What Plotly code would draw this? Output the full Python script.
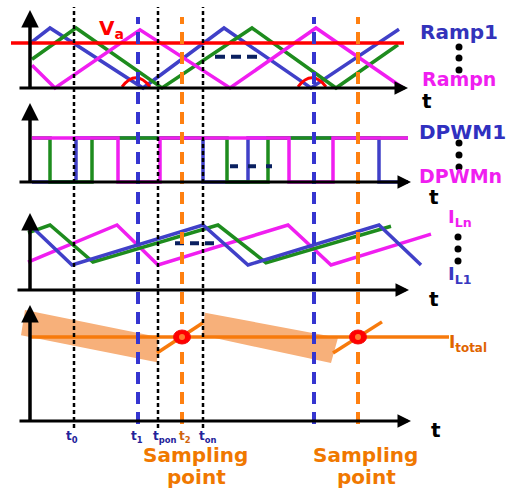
import plotly.graph_objects as go

FIG_W, FIG_H = 512, 492
X_RANGE = [-30, 482]          # time axis, clock ticks

# ---------------- data ----------------
# switching instants
t_0, t_1, t_pon, t_2, t_on = 44, 108, 128, 152, 173
t_1b, t_2b = 284, 328
black_marks = [t_0, t_pon, t_on]
blue_marks = [t_1, t_1b]
sample_marks = [t_2, t_2b]

# panel 1: carrier ramps (normalised) and control voltage
ramp1_t = [2, 20, 113, 194, 281, 369]
ramp1_v = [0.77, 1.0, 0.0, 1.0, 0.0, 0.98]
ramp2_t = [2, 46, 132, 222, 306, 368]
ramp2_v = [0.48, 1.0, 0.0, 1.0, 0.0, 0.72]
rampn_t = [2, 25, 110, 200, 286, 373]
rampn_v = [0.38, 0.0, 0.97, 0.0, 1.0, 0.0]
vc_t = [-19, 374]
vc_level = 0.75
cross_t = [106, 282]          # valley crossings circled in red

# panel 2: DPWM outputs (edge times and logic states)
dpwm1_edges = [2, 46, 173, 218, 349, 378]
dpwm1_state = [0, 1, 0, 1, 0]
dpwm2_edges = [2, 20, 62, 197, 238, 378]
dpwm2_state = [1, 0, 1, 0, 1]
dpwmn_edges = [2, 88, 130, 259, 303, 378]
dpwmn_state = [1, 0, 1, 0, 1]

# panel 3: phase inductor currents (normalised)
iL1_t = [0, 42, 173, 218, 349, 391]
iL1_v = [1.0, 0.385, 1.0, 0.385, 1.0, 0.385]
iL2_t = [-2, 20, 63, 188, 236, 361]
iL2_v = [0.88, 1.0, 0.43, 1.0, 0.42, 0.98]
iLn_t = [-2, 87, 128, 258, 301, 401]
iLn_v = [0.43, 1.0, 0.385, 1.0, 0.385, 0.86]

# panel 4: total current, ripple envelope and sampling
itotal_t = [0, 419]
itotal_level = 1.0
band1_t = [-5, 128, 127, -9]
band1_v = [1.32, 1.0, 0.70, 1.02]
band2_t = [175, 308, 301, 172]
band2_v = [1.29, 0.99, 0.69, 1.02]
slope1_t, slope1_v = [127, 173], [0.81, 1.17]
slope2_t, slope2_v = [303, 352], [0.81, 1.18]

# ---------------- styling ----------------
BLUE = "#4040C8"
GREEN = "#1E8C1E"
MAGENTA = "#F01EF0"
RED = "#FF0000"
ORANGE = "#FF8010"
ORANGE_LINE = "#F77A0C"
BAND = "#F7B07A"
NAVY = "#0A2060"
FONT = "DejaVu Sans"
LW = 3.5

# stacked panels in pixels: top, bottom, baseline, pixels per unit
PANEL_GEOM = [
    (0, 100, 88, 60),
    (100, 200, 182, 44),
    (200, 300, 290, 65),
    (300, 492, 421, 84),
]


def px(x, y):
    return x / FIG_W, 1 - y / FIG_H


fig = go.Figure()
layout = dict(
    width=FIG_W, height=FIG_H, margin=dict(l=0, r=0, t=0, b=0),
    paper_bgcolor="white", plot_bgcolor="rgba(0,0,0,0)", showlegend=False,
    xaxis=dict(range=X_RANGE, visible=False, domain=[0, 1], fixedrange=True),
)
for i, (top, bot, base, unit) in enumerate(PANEL_GEOM):
    name = "yaxis" if i == 0 else f"yaxis{i + 1}"
    layout[name] = dict(
        domain=[max(0, 1 - bot / FIG_H), min(1, 1 - top / FIG_H)],
        range=[(base - bot) / unit, (base - top) / unit],
        visible=False, anchor="x", fixedrange=True,
    )
fig.update_layout(**layout)
P4_UNIT = PANEL_GEOM[3][3]


def line(xs, ys, yax, color, width=LW, dash=None, shape="linear"):
    fig.add_trace(go.Scatter(
        x=xs, y=ys, mode="lines", xaxis="x", yaxis=yax, hoverinfo="skip",
        line=dict(color=color, width=width, dash=dash, shape=shape)))


def steps(edges, states):
    return edges, states + [states[-1]]


# panel 1
line(ramp1_t, ramp1_v, "y", BLUE)
line(ramp2_t, ramp2_v, "y", GREEN)
line(rampn_t, rampn_v, "y", MAGENTA)
line(vc_t, [vc_level, vc_level], "y", RED)
line([185, 230], [0.52, 0.52], "y", NAVY, width=4, dash="10px,6px")

# panel 2
line(*steps(dpwm1_edges, dpwm1_state), "y2", BLUE, shape="hv")
line(*steps(dpwm2_edges, dpwm2_state), "y2", GREEN, shape="hv")
line(*steps(dpwmn_edges, dpwmn_state), "y2", MAGENTA, shape="hv")
line([200, 242], [0.36, 0.36], "y2", NAVY, width=4, dash="8px,10px")

# panel 3
line(iLn_t, iLn_v, "y3", MAGENTA)
line(iL2_t, iL2_v, "y3", GREEN)
line(iL1_t, iL1_v, "y3", BLUE)
line([145, 187], [0.72, 0.72], "y3", NAVY, width=4, dash="9px,6px")

# panel 4
for bt, bv in ((band1_t, band1_v), (band2_t, band2_v)):
    fig.add_trace(go.Scatter(
        x=bt + bt[:1], y=bv + bv[:1], mode="lines", fill="toself",
        fillcolor=BAND, line=dict(width=0, color=BAND),
        xaxis="x", yaxis="y4", hoverinfo="skip"))
line(itotal_t, [itotal_level] * 2, "y4", ORANGE_LINE)
line(slope1_t, slope1_v, "y4", ORANGE_LINE)
line(slope2_t, slope2_v, "y4", ORANGE_LINE)

shapes = []
# red arcs around the valley crossings
for c in cross_t:
    shapes.append(dict(
        type="path", xref="x", yref="y",
        path=f"M {c - 14},0.02 Q {c},0.32 {c + 14},0.02",
        line=dict(color=RED, width=3)))

# vertical time markers spanning all panels
y_lo_black, y_hi_black = 1 - 428 / FIG_H, 1 - 7 / FIG_H
y_lo_col, y_hi_col = 1 - 424 / FIG_H, 1 - 17 / FIG_H
for t in black_marks:
    shapes.append(dict(type="line", xref="x", yref="paper", x0=t, x1=t,
                       y0=y_lo_black, y1=y_hi_black, layer="above",
                       line=dict(color="black", width=2.5, dash="4px,3px")))
for t in blue_marks:
    shapes.append(dict(type="line", xref="x", yref="paper", x0=t, x1=t,
                       y0=y_lo_col, y1=y_hi_col, layer="above",
                       line=dict(color="#3535D0", width=4, dash="12px,8px")))
for t in sample_marks:
    shapes.append(dict(type="line", xref="x", yref="paper", x0=t, x1=t,
                       y0=y_lo_col, y1=y_hi_col, layer="above",
                       line=dict(color=ORANGE, width=4, dash="12px,8px")))

# sampled points on the total current, on top of the markers
for t in sample_marks:
    shapes.append(dict(type="circle", xref="x", yref="y4", layer="above",
                       x0=t - 8.5, x1=t + 8.5,
                       y0=itotal_level - 7 / P4_UNIT, y1=itotal_level + 7 / P4_UNIT,
                       fillcolor=RED, line=dict(color="#F01010", width=1)))
    shapes.append(dict(type="circle", xref="x", yref="y4", layer="above",
                       x0=t - 3, x1=t + 3,
                       y0=itotal_level - 3 / P4_UNIT, y1=itotal_level + 3 / P4_UNIT,
                       fillcolor="#FF7A30", line=dict(width=0)))

# vertical ellipsis dots
for (xd, ys) in ((459, (47, 58, 70)), (459, (143, 155, 167)), (458, (237, 249, 261))):
    for yd in ys:
        x0, y0 = px(xd - 3.5, yd + 3.5)
        x1, y1 = px(xd + 3.5, yd - 3.5)
        shapes.append(dict(type="circle", xref="paper", yref="paper",
                           x0=x0, x1=x1, y0=y0, y1=y1,
                           fillcolor="black", line=dict(width=0)))
fig.update_layout(shapes=shapes)

ann = []
# axes drawn as arrows
axis_specs = [
    # yaxis, vertical top value, horizontal start/end times
    ("y", 1.30, -12, 378),
    ("y2", 1.795, -12, 381),
    ("y3", 1.185, -14, 379),
    ("y4", 1.38, -12, 381),
]
for yax, vtop, hx0, hx1 in axis_specs:
    ann.append(dict(x=0, y=vtop, ax=0, ay=-0.03, xref="x", yref=yax,
                    axref="x", ayref=yax, text="", showarrow=True,
                    arrowhead=2, arrowsize=1, arrowwidth=3.5, arrowcolor="black"))
    ann.append(dict(x=hx1, y=0, ax=hx0, ay=0, xref="x", yref=yax,
                    axref="x", ayref=yax, text="", showarrow=True,
                    arrowhead=2, arrowsize=0.9, arrowwidth=3, arrowcolor="black"))


def label(text, x, y, color, size, xanchor="left", yanchor="middle"):
    xp, yp = px(x, y)
    ann.append(dict(x=xp, y=yp, xref="paper", yref="paper", text=text,
                    showarrow=False, xanchor=xanchor, yanchor=yanchor,
                    font=dict(family=FONT, size=size, color=color)))


label("<b>V<sub>a</sub></b>", 97, 29, RED, 20)
label("<b>Ramp1</b>", 418, 32, "#3333BB", 20)
label("<b>Rampn</b>", 420, 79, MAGENTA, 19)
label("<b>t</b>", 427, 101, "black", 20, "center")
label("<b>DPWM1</b>", 417, 132, "#3030C0", 20)
label("<b>DPWMn</b>", 417, 176, MAGENTA, 19)
label("<b>t</b>", 434, 197, "black", 20, "center")
label("<b>I<sub>Ln</sub></b>", 446, 218, MAGENTA, 18)
label("<b>I<sub>L1</sub></b>", 446, 275, "#3838C0", 18)
label("<b>t</b>", 434, 299, "black", 20, "center")
label("<b>I<sub>total</sub></b>", 447, 343, "#E06400", 17)
label("<b>t</b>", 436, 430, "black", 20, "center")

label("<b>t<sub>0</sub></b>", 72, 437, "#22229A", 12, "center")
label("<b>t<sub>1</sub></b>", 137, 437, "#22229A", 12, "center")
label("<b>t<sub>pon</sub></b>", 164, 437, "#22229A", 12, "center")
label("<b>t<sub>2</sub></b>", 185, 437, "#D06410", 12, "center")
label("<b>t<sub>on</sub></b>", 208, 437, "#22229A", 12, "center")

for cx in (195, 365):
    label("<b>Sampling</b>", cx, 455, "#F07800", 20, "center")
    label("<b>point</b>", cx + 1, 477, "#F07800", 20, "center")

fig.update_layout(annotations=ann)
fig.write_html("out.html")
